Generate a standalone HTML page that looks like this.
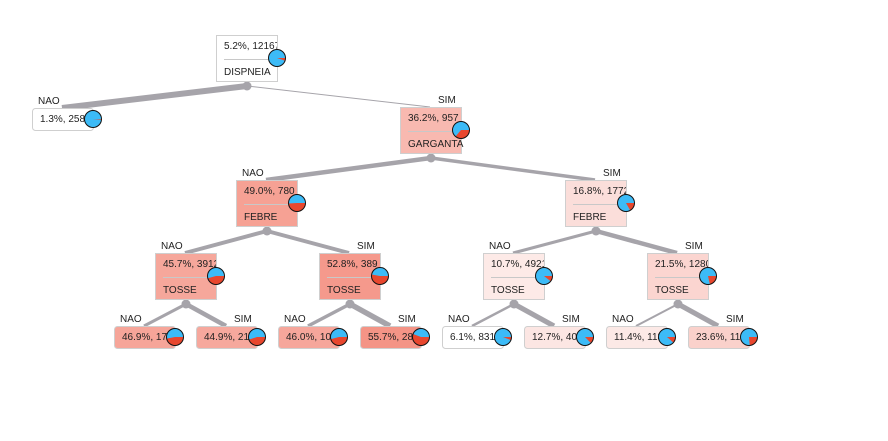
<!DOCTYPE html>
<html><head><meta charset="utf-8"><style>
html,body{margin:0;padding:0;background:#fff;}
svg{display:block;font-family:"Liberation Sans",sans-serif;}
</style></head><body>
<svg id="tree" width="888" height="441" viewBox="0 0 888 441" xmlns="http://www.w3.org/2000/svg"></svg>
<script>
// tree data
const nodePct = [5.2, 1.3, 36.2, 49.0, 16.8, 45.7, 52.8, 10.7, 21.5, 46.9, 44.9, 46.0, 55.7, 6.1, 12.7, 11.4, 23.6];
const nodeCount = ["12167", "2580", "957", "780", "1772", "3912", "389", "4921", "1280", "17", "21", "10", "28", "831", "40", "118", "11"];
const nodeSplit = ["DISPNEIA", "", "GARGANTA", "FEBRE", "FEBRE", "TOSSE", "TOSSE", "TOSSE", "TOSSE", "", "", "", "", "", "", "", ""];
const nodeParent = [-1, 0, 0, 2, 2, 3, 3, 4, 4, 5, 5, 6, 6, 7, 7, 8, 8];
const branchLabel = ["", "NAO", "SIM", "NAO", "SIM", "NAO", "SIM", "NAO", "SIM", "NAO", "SIM", "NAO", "SIM", "NAO", "SIM", "NAO", "SIM"];
const edgeWeight = [0, 6, 1, 4.5, 3.5, 4, 4, 3, 4.5, 3, 4.5, 3.5, 5.5, 2.5, 5, 2, 5];
// layout
const boxLeft = [216, 32, 400, 236, 565, 155, 319, 483, 647, 114, 196, 278, 360, 442, 524, 606, 688];
const boxTop = [35, 108, 107, 180, 180, 253, 253, 253, 253, 326, 326, 326, 326, 326, 326, 326, 326];

const NS = "http://www.w3.org/2000/svg";
const svg = document.getElementById("tree");
function mk(tag, attrs, parent) {
  const e = document.createElementNS(NS, tag);
  for (const k in attrs) e.setAttribute(k, attrs[k]);
  (parent || svg).appendChild(e);
  return e;
}
function fillFor(p, leaf, i) {
  if (i === 0 || p < 7) return "#ffffff";
  const t = Math.min(1, p / 60);
  const r = 255 + (244 - 255) * t, g = 255 + (140 - 255) * t, b = 255 + (125 - 255) * t;
  return `rgb(${r|0},${g|0},${b|0})`;
}
const W = 61;
const isLeaf = nodeSplit.map(s => s === "");
const boxH = i => isLeaf[i] ? 22 : 46;
const dotPos = i => [boxLeft[i] + 31, boxTop[i] + boxH(i) + 5];

const defs = mk("defs", {});
const edges = mk("g", {});  

// edges
for (let i = 1; i < nodePct.length; i++) {
  const p = nodeParent[i];
  const [x1, y1] = dotPos(p);
  const l = mk("line", {x1, y1, x2: boxLeft[i] + 30, y2: boxTop[i], stroke: "#a6a4aa", "stroke-width": edgeWeight[i]}, edges);
  
  
}
// dots
for (let i = 0; i < nodePct.length; i++) {
  if (isLeaf[i]) continue;
  const [x, y] = dotPos(i);
  const c = mk("circle", {cx: x, cy: y, r: 4.5, fill: "#a6a4aa"});
  
  
}
// nodes
for (let i = 0; i < nodePct.length; i++) {
  const g = mk("g", {});
  
  
  const x = boxLeft[i], y = boxTop[i], h = boxH(i);
  const cp = mk("clipPath", {id: "c" + i}, defs);
  mk("rect", {x: x, y: y, width: W, height: h}, cp);
  mk("rect", {x: x + 0.5, y: y + 0.5, width: W, height: h, rx: isLeaf[i] ? 3 : 0, fill: fillFor(nodePct[i], isLeaf[i], i), stroke: "#cfcfcf", "stroke-width": 1}, g);
  const t1 = mk("text", {x: x + 8, y: y + 14, "font-size": 10, fill: "#222", "clip-path": "url(#c" + i + ")"}, g);
  t1.textContent = nodePct[i].toFixed(1) + "%, " + nodeCount[i];
  if (!isLeaf[i]) {
    mk("line", {x1: x + 8, y1: y + 24.5, x2: x + 52, y2: y + 24.5, stroke: "#c8c8c8"}, g);
    const t2 = mk("text", {x: x + 8, y: y + 40, "font-size": 10, fill: "#222"}, g);
    t2.textContent = nodeSplit[i];
  }
  if (branchLabel[i]) {
    const lb = mk("text", {x: branchLabel[i] === "NAO" ? x + 6 : x + 38, y: y - 4, "font-size": 10, fill: "#222"}, g);
    lb.textContent = branchLabel[i];
    
    
  }
  // pie
  const cx = x + W, cy = isLeaf[i] ? y + 11 : y + 23, r = 8.5;
  const pie = mk("g", {}, g);
  
  
  mk("circle", {cx, cy, r, fill: "#3cbbf7"}, pie);
  const a = nodePct[i] / 100 * 2 * Math.PI;
  const ex = cx + r * Math.cos(a), ey = cy + r * Math.sin(a);
  mk("path", {d: `M${cx},${cy} L${cx + r},${cy} A${r},${r} 0 ${a > Math.PI ? 1 : 0} 1 ${ex},${ey} Z`, fill: "#e8472e"}, pie);
  mk("circle", {cx, cy, r, fill: "none", stroke: "#111", "stroke-width": 1}, pie);
}
</script>
</body></html>
